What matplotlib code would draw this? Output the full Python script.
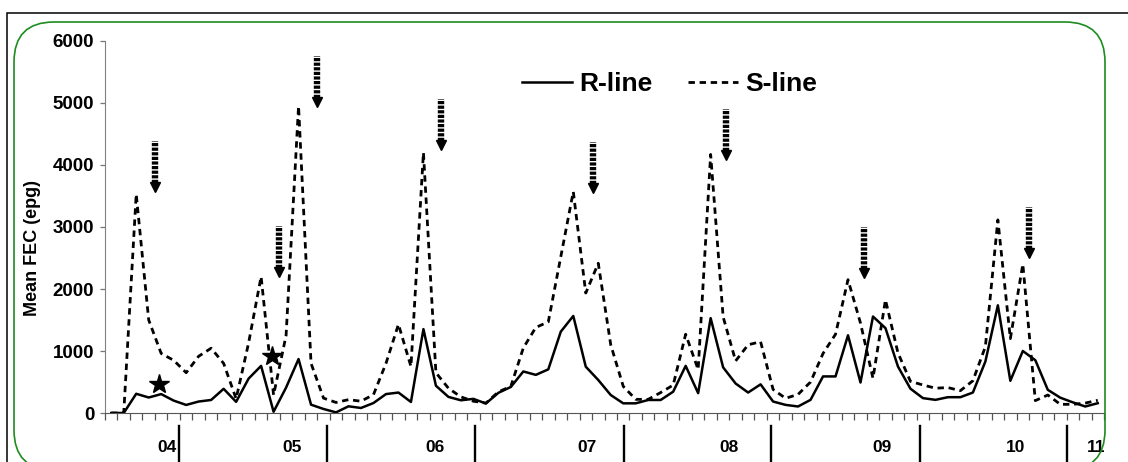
import numpy as np
import matplotlib
matplotlib.use("Agg")
import matplotlib.pyplot as plt
from matplotlib import font_manager
from matplotlib.patches import FancyBboxPatch, Rectangle
from matplotlib.transforms import IdentityTransform, blended_transform_factory

# mean faecal egg counts (epg), one value per monthly sample
r_line = [0, 0, 310, 250, 305, 200, 130, 185, 210, 390,
          180, 555, 760, 20, 410, 870, 134, 65, 10, 108,
          81, 161, 305, 330, 178, 1353, 440, 260, 205, 228,
          153, 325, 420, 670, 615, 704, 1312, 1565, 747, 532,
          290, 156, 156, 210, 210, 344, 760, 320, 1530, 736,
          476, 330, 462, 185, 131, 105, 212, 590, 590, 1253,
          492, 1556, 1369, 750, 392, 240, 212, 255, 255, 330,
          830, 1737, 520, 1000, 852, 374, 247, 172, 105, 158]
s_line = [0, 0, 3530, 1500, 960, 850, 650, 915, 1045, 800,
          230, 1130, 2200, 290, 1250, 4950, 800, 240, 170, 215,
          190, 296, 800, 1430, 750, 4200, 650, 400, 260, 190,
          160, 340, 430, 1050, 1380, 1470, 2520, 3570, 1935, 2415,
          1100, 430, 220, 220, 330, 450, 1270, 700, 4170, 1550,
          840, 1100, 1150, 380, 237, 300, 500, 960, 1270, 2150,
          1450, 560, 1825, 970, 510, 452, 400, 410, 360, 520,
          1070, 3115, 1200, 2400, 200, 290, 140, 140, 160, 205]
months = np.arange(len(r_line))

year_labels = ["04", "05", "06", "07", "08", "09", "10", "11"]
year_label_pos = [4.5, 14.5, 25.9, 38.1, 49.5, 61.7, 72.4, 78.85]
year_marks = [5.43, 17.28, 29.09, 41.06, 52.87, 64.76, 76.53]

star_month = [3.8, 12.9]
star_value = [470, 920]

arrow_month = [3.5, 13.45, 16.5, 26.4, 38.55, 49.2, 60.3, 73.5]
arrow_tip = [3560, 2190, 4940, 4240, 3550, 4080, 2180, 2500]

names = {f.name for f in font_manager.fontManager.ttflist}
base = "Liberation Sans" if "Liberation Sans" in names else "DejaVu Sans"
narrow = "Liberation Sans Narrow" if "Liberation Sans Narrow" in names else base
condensed = narrow != base

W, H = 1128, 462
fig = plt.figure(figsize=(W / 100, H / 100), dpi=100)
ax = fig.add_axes([105 / W, 1 - 413 / H, 999 / W, 372 / H])

ax.plot(months, r_line, color="black", lw=1.8, label="R-line")
ax.plot(months, s_line, color="black", lw=2.0, ls=(0, (2.3, 1.7)), label="S-line")

ax.plot(star_month, star_value, ls="none", marker="*", ms=15, color="black")

unit = 6000 / 372  # epg per pixel
for m, tip in zip(arrow_month, arrow_tip):
    ax.plot([m, m], [tip + 9 * unit, tip + 51 * unit], color="black", lw=4.6,
            ls=(0, (0.5, 0.22)), dash_capstyle="butt")
    ax.plot([m], [tip + 5 * unit], marker="v", ms=7, color="black")

ax.set_xlim(-0.5, len(r_line) - 0.5)
ax.set_ylim(0, 6000)
ax.set_yticks(np.arange(0, 6001, 1000))
ax.set_xticks(np.arange(-0.5, len(r_line)))
ax.set_xticklabels([])
ax.tick_params(axis="x", direction="out", length=5, width=0.9, color="#555555")
ax.tick_params(axis="y", direction="out", length=3.8, width=0.9, color="#777777",
               pad=4, labelsize=13.5)
for lab in ax.get_yticklabels():
    lab.set_fontweight("bold")
    lab.set_family(base)

for side in ("top", "right"):
    ax.spines[side].set_visible(False)
ax.spines["left"].set_color("#808080")
ax.spines["bottom"].set_color("#555555")

trans = blended_transform_factory(ax.transData, ax.transAxes)
for pos, lab in zip(year_label_pos, year_labels):
    ax.text(pos, -0.094, lab, transform=trans, ha="center", va="center",
            fontsize=12.5, fontweight="bold", family=base)
for m in year_marks:
    ax.plot([m, m], [-0.035, -0.16], transform=trans, clip_on=False,
            color="black", lw=1.7)

fig.text(32.5 / W, 1 - 248 / H, "Mean FEC (epg)", rotation=90, ha="center",
         va="center", fontsize=15.5 if condensed else 13, fontweight="bold",
         family=narrow)

leg_size = 22 if condensed else 19
em = leg_size * 100 / 72
ax.legend(loc="center left", bbox_to_anchor=(522 / W, 1 - 84 / H),
          bbox_transform=fig.transFigure, ncol=2, frameon=False,
          prop=dict(family=narrow, weight="bold", size=leg_size),
          handlelength=50 / em, handletextpad=7 / em,
          columnspacing=(40 if condensed else 36) / em,
          borderpad=0, borderaxespad=0)

fig.add_artist(Rectangle((7, -20), 1200, H - 13 + 20, transform=IdentityTransform(),
                         fill=False, edgecolor="black", lw=1.1))
fig.add_artist(FancyBboxPatch((14, H - 470), 1105 - 14, 470 - 22,
                              boxstyle="round,pad=0,rounding_size=40",
                              transform=IdentityTransform(), fill=False,
                              edgecolor="#1e8c1e", lw=1.2))

fig.savefig("out.png", dpi=100)
